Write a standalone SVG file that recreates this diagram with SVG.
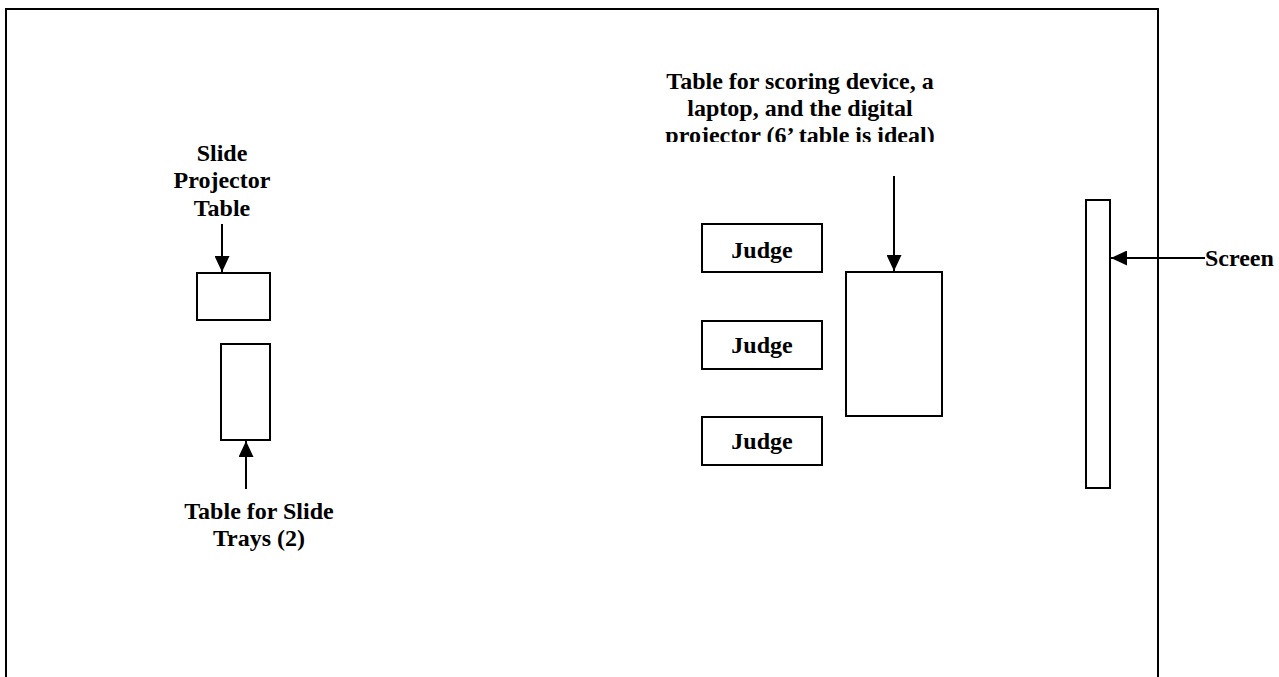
<svg xmlns="http://www.w3.org/2000/svg" width="1279" height="677" viewBox="0 0 1279 677">
<style>
.box{fill:#fff;stroke:#000;stroke-width:2}
.lbl{font-family:"Liberation Serif","Times New Roman",serif;font-weight:bold;font-size:24px;fill:#000}
.c{text-anchor:middle}
.conn{stroke:#000;stroke-width:2;fill:none;marker-end:url(#ah)}
</style>
<defs>
<marker id="ah" markerWidth="16" markerHeight="15" refX="16" refY="7.5" orient="auto" markerUnits="userSpaceOnUse">
<path d="M0,0 L16,7.5 L0,15 Z" fill="#000"/>
</marker>
<clipPath id="clipTop"><rect x="600" y="60" width="400" height="82"/></clipPath>
</defs>
<rect width="1279" height="677" fill="#fff"/>
<g id="room"><rect x="6" y="9" width="1152" height="720" fill="none" stroke="#000" stroke-width="2"/></g>
<g id="slide-projector-table">
<rect class="box" x="197" y="273" width="73" height="47"/>
<text class="lbl c" x="222" y="161">Slide</text>
<text class="lbl c" x="222" y="188">Projector</text>
<text class="lbl c" x="222" y="216">Table</text>
</g>
<g id="slide-trays-table">
<rect class="box" x="221" y="344" width="49" height="96"/>
<text class="lbl c" x="259" y="519">Table for Slide</text>
<text class="lbl c" x="259" y="546">Trays (2)</text>
</g>
<g id="judge1"><rect class="box" x="702" y="224" width="120" height="48"/><text class="lbl c" x="762" y="258">Judge</text></g>
<g id="judge2"><rect class="box" x="702" y="321" width="120" height="48"/><text class="lbl c" x="762" y="353">Judge</text></g>
<g id="judge3"><rect class="box" x="702" y="417" width="120" height="48"/><text class="lbl c" x="762" y="449">Judge</text></g>
<g id="scoring-table">
<rect class="box" x="846" y="272" width="96" height="144"/>
<g clip-path="url(#clipTop)">
<text class="lbl c" x="800" y="89">Table for scoring device, a</text>
<text class="lbl c" x="800" y="116">laptop, and the digital</text>
<text class="lbl c" x="800" y="143">projector (6’ table is ideal)</text>
</g>
</g>
<g id="screen">
<rect class="box" x="1086" y="200" width="24" height="288"/>
<text class="lbl" x="1205" y="266">Screen</text>
</g>
<g id="connectors">
<line class="conn" x1="222" y1="224" x2="222" y2="272"/>
<line class="conn" x1="246" y1="489" x2="246" y2="441"/>
<line class="conn" x1="894" y1="176" x2="894" y2="271"/>
<line class="conn" x1="1205" y1="258" x2="1111" y2="258"/>
</g>
</svg>
